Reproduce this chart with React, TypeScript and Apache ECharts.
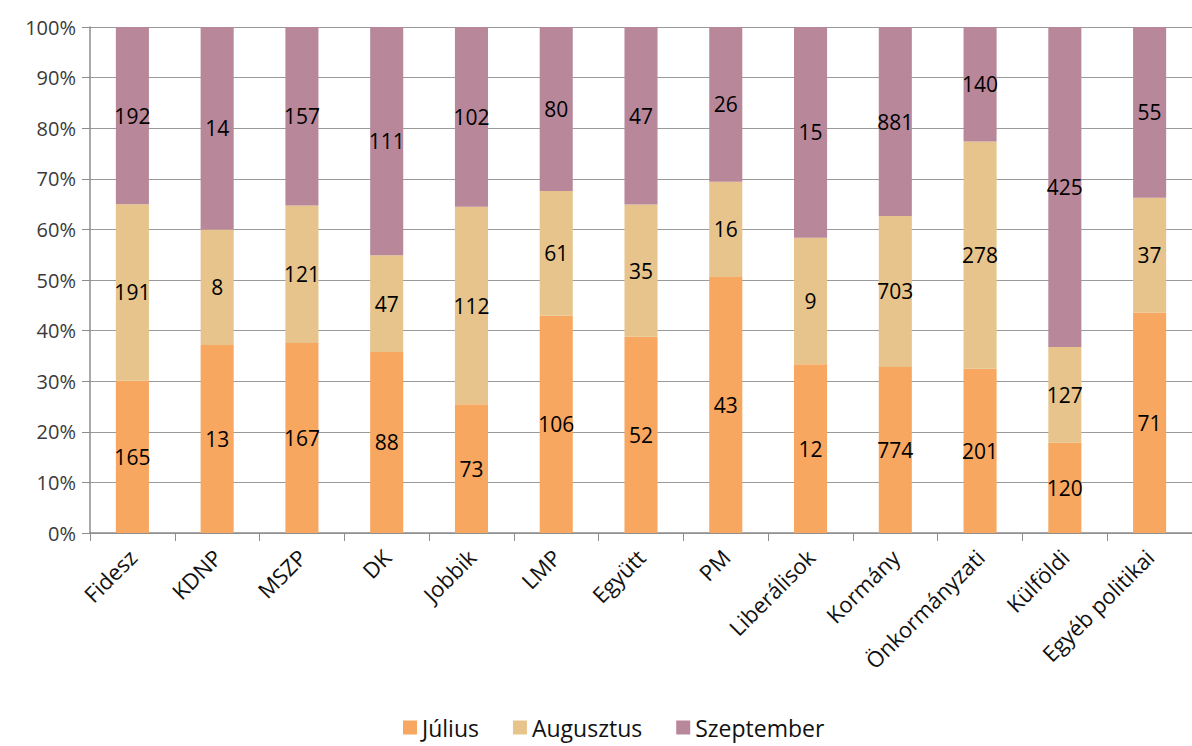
import React, { useEffect, useRef } from "react";
import * as echarts from "echarts";

const categories = ["Fidesz", "KDNP", "MSZP", "DK", "Jobbik", "LMP", "Együtt", "PM", "Liberálisok", "Kormány", "Önkormányzati", "Külföldi", "Egyéb politikai"];
const julius = [165, 13, 167, 88, 73, 106, 52, 43, 12, 774, 201, 120, 71];
const augusztus = [191, 8, 121, 47, 112, 61, 35, 16, 9, 703, 278, 127, 37];
const szeptember = [192, 14, 157, 111, 102, 80, 47, 26, 15, 881, 140, 425, 55];
const seriesNames = ["Július", "Augusztus", "Szeptember"];
const colors = ["#F7A760", "#E6C48B", "#B8879A"];

export default function App() {
  const ref = useRef<HTMLDivElement>(null);
  useEffect(() => {
    const chart = echarts.init(ref.current!, null, { renderer: "svg" });
    const raw = [julius, augusztus, szeptember];
    const totals = categories.map((_, i) => julius[i] + augusztus[i] + szeptember[i]);
    const font = "'Open Sans', 'Noto Sans', sans-serif";
    chart.setOption({
      animation: false,
      color: colors,
      grid: { left: 90, top: 27, width: 1109, height: 506 },
      legend: {
        bottom: 2,
        left: 398,
        itemWidth: 14,
        itemHeight: 14,
        itemGap: 34,
        icon: "rect",
        textStyle: { fontFamily: font, fontSize: 23, color: "#111" },
        data: seriesNames,
      },
      xAxis: {
        type: "category",
        data: categories,
        axisLine: { lineStyle: { color: "#8c8c8c", width: 1.5 } },
        axisTick: { show: true, length: 8, lineStyle: { color: "#8c8c8c" } },
        axisLabel: { rotate: 45, fontFamily: font, fontSize: 22, color: "#111", margin: 20, interval: 0 },
      },
      yAxis: {
        type: "value",
        min: 0,
        max: 100,
        interval: 10,
        axisLine: { show: true, lineStyle: { color: "#8c8c8c", width: 1.5 } },
        axisTick: { show: true, length: 8, lineStyle: { color: "#8c8c8c" } },
        axisLabel: { formatter: "{value}%", fontFamily: font, fontSize: 20, color: "#3a3a3a", margin: 14 },
        splitLine: { show: true, lineStyle: { color: "#9a9a9a", width: 1 } },
      },
      series: seriesNames.map((name, s) => ({
        name,
        type: "bar",
        stack: "total",
        barWidth: "39%",
        data: raw[s].map((v, i) => (v / totals[i]) * 100),
        label: {
          show: true,
          position: "inside",
          fontFamily: font,
          fontSize: 21,
          color: "#000",
          formatter: (p: any) => String(raw[s][p.dataIndex]),
        },
      })),
    });
    return () => chart.dispose();
  }, []);
  return <div ref={ref} style={{ width: 1192, height: 746, position: "absolute", left: 0, top: 0 }} />;
}
